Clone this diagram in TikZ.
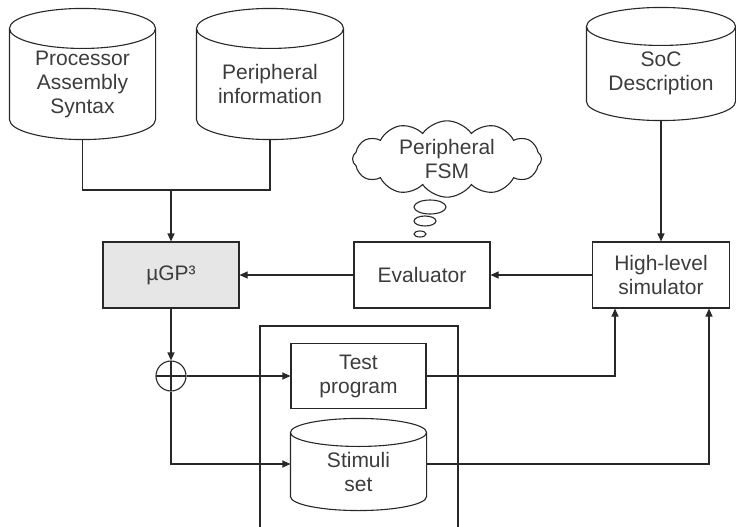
\documentclass[tikz,border=0pt]{standalone}
\usepackage{fontspec}
\setmainfont{Liberation Sans}
\usepackage{xcolor}
\definecolor{lnblack}{RGB}{40,40,40}
\definecolor{txtgray}{RGB}{60,60,60}
\definecolor{ugpfill}{RGB}{230,230,230}
\usetikzlibrary{arrows.meta, shapes.geometric, shapes.symbols, calc}

\tikzset{
  base/.style={draw=lnblack, line width=1.1pt, text=txtgray, align=center,
               font=\fontsize{21}{24}\selectfont, inner sep=0pt},
  blockbox/.style={base, rectangle, minimum width=136pt, minimum height=66pt},
  dbbox/.style={base, rectangle, draw=none},
  arr/.style={draw=lnblack, line width=1.1pt, -{Triangle[length=8pt,width=7pt]}},
  wire/.style={draw=lnblack, line width=1.1pt},
}
% cylinder outline round a db node: #1 node, #2 end ellipse y radius
\newcommand{\dbshape}[2]{%
  \draw[wire] let \p1=(#1.north west), \p2=(#1.south east) in
    (\x1,\y1) -- (\x1,\y2+#2)
    arc[start angle=180, end angle=360, x radius={(\x2-\x1)/2}, y radius=#2]
    -- (\x2,\y1)
    ({(\x1+\x2)/2},\y1) ellipse [x radius={(\x2-\x1)/2}, y radius=#2];
}

\begin{document}
\begin{tikzpicture}[x=1pt, y=-1pt]
  \useasboundingbox (0,0) rectangle (736,527);

  % Input databases
  \node[dbbox, minimum width=145pt, minimum height=110pt] (pas) at (82.5,84) {Processor\\Assembly\\Syntax};
  \dbshape{pas}{20pt}
  \node[dbbox, minimum width=146pt, minimum height=110pt] (pinfo) at (270,84) {Peripheral\\information};
  \dbshape{pinfo}{20pt}
  \node[dbbox, minimum width=148pt, minimum height=93pt] (soc) at (661,73.5) {SoC\\Description};
  \dbshape{soc}{19pt}

  % Main blocks
  \node[blockbox, fill=ugpfill] (ugp) at (171,275) {µGP³};
  \node[blockbox] (eval) at (422,275) {Evaluator};
  \node[blockbox, minimum width=137pt] (hls) at (661,275) {High-level\\simulator};

  % Thought cloud over the evaluator
  \node[base, cloud, cloud puffs=12, cloud puff arc=110, aspect=3,
        minimum width=189pt, minimum height=65pt] (fsm) at (447,159) {Peripheral\\FSM};
  \draw[wire] (430,207) ellipse (16pt and 7pt);
  \draw[wire] (425,221) ellipse (11pt and 5pt);
  \draw[wire] (420,234) ellipse (6pt and 3pt);

  % Generated material
  \draw[wire] (260,527) |- (458,326) -- (458,527);
  \node[blockbox, minimum width=135pt, minimum height=65pt] (tp) at (358.5,376) {Test\\program};
  \node[dbbox, minimum width=135pt, minimum height=77pt] (stim) at (358.5,471.5) {Stimuli\\set};
  \dbshape{stim}{14pt}

  % Split point
  \node[wire, circle, minimum size=30pt, inner sep=0pt,
        path picture={\draw[wire] (path picture bounding box.north) -- (path picture bounding box.south)
                                  (path picture bounding box.west) -- (path picture bounding box.east);}] (xor) at (171,376) {};

  % Connectors
  \coordinate (merge) at (171,190);
  \draw[wire] (pas.south) |- (merge) -| (pinfo.south);
  \draw[arr] (merge) -- (ugp.north);
  \draw[arr] (soc.south) -- (hls.north);
  \draw[arr] (hls.west) -- (eval.east);
  \draw[arr] (eval.west) -- (ugp.east);
  \draw[arr] (ugp.south) -- (xor.north);
  \draw[arr] (xor.east) -- (tp.west);
  \draw[arr] (xor.south) |- ([yshift=7.5pt]stim.west);
  \draw[arr] (tp.east) -| ([xshift=-46pt]hls.south);
  \draw[arr] ([yshift=7.5pt]stim.east) -| ([xshift=48pt]hls.south);
\end{tikzpicture}
\end{document}
